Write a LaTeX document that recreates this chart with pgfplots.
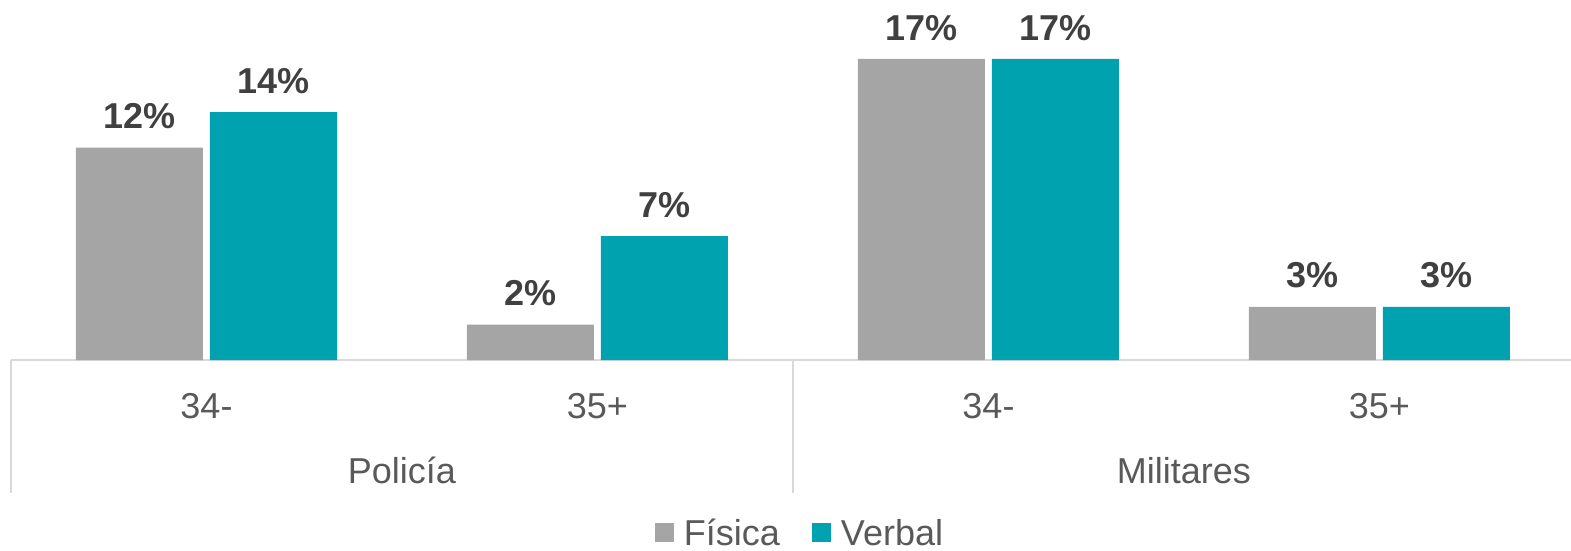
\documentclass[border=0pt]{standalone}
\usepackage{fontspec}
\setmainfont{Liberation Sans}
\usepackage{pgfplots}
\pgfplotsset{compat=1.18}
\definecolor{cgrey}{HTML}{A5A5A5}
\definecolor{cteal}{HTML}{00A2B0}
\definecolor{ctext}{HTML}{595959}
\definecolor{clabel}{HTML}{404040}
\definecolor{cline}{HTML}{D9D9D9}
\begin{document}
\begin{tikzpicture}
\begin{axis}[
  at={(11pt,190pt)}, anchor=south west,
  scale only axis, width=1564pt, height=360pt,
  xmin=-0.5, xmax=3.5, ymin=0, ymax=20.33,
  axis y line=none, axis x line*=bottom,
  x axis line style={draw=cline, line width=2pt, -},
  ybar, bar width=127pt,
  xtick={0,1,2,3}, xticklabels={34-,35+,34-,35+},
  xtick style={draw=none}, major tick length=0pt,
  xticklabel style={font=\fontsize{36}{40}\selectfont, text=ctext, anchor=base, yshift=-58pt},
  nodes near coords={\pgfmathprintnumber{\pgfplotspointmeta}\%},
  nodes near coords style={font=\fontsize{36}{40}\selectfont\bfseries, text=clabel, yshift=15pt},
  /pgf/number format/assume math mode=true,
  clip=false,
  legend style={draw=none, fill=none, legend columns=-1,
    font=\fontsize{36}{40}\selectfont, text=ctext,
    at={(0.5045,-0.48)}, anchor=center,
    /tikz/every even column/.append style={column sep=30pt}},
]
\addplot[fill=cgrey, draw=none, bar shift=-67pt,
  legend image code/.code={\fill[cgrey] (0pt,-9.5pt) rectangle (19pt,9.5pt); \path (27pt,0pt);}]
  coordinates {(0,12) (1,2) (2,17) (3,3)};
\addplot[fill=cteal, draw=none, bar shift=67pt,
  legend image code/.code={\fill[cteal] (0pt,-9.5pt) rectangle (19pt,9.5pt); \path (27pt,0pt);}]
  coordinates {(0,14) (1,7) (2,17) (3,3)};
\legend{Física, Verbal}
\draw[cline, line width=2pt] (axis cs:-0.5,0) -- ([yshift=-133pt]axis cs:-0.5,0);
\draw[cline, line width=2pt] (axis cs:1.5,0) -- ([yshift=-133pt]axis cs:1.5,0);
\node[anchor=base, font=\fontsize{36}{40}\selectfont, text=ctext] at ([yshift=-123pt]axis cs:0.5,0) {Policía};
\node[anchor=base, font=\fontsize{36}{40}\selectfont, text=ctext] at ([yshift=-123pt]axis cs:2.5,0) {Militares};
\end{axis}
\pgfresetboundingbox
\useasboundingbox (0,0) rectangle (1571pt,550pt);
\end{tikzpicture}
\end{document}
